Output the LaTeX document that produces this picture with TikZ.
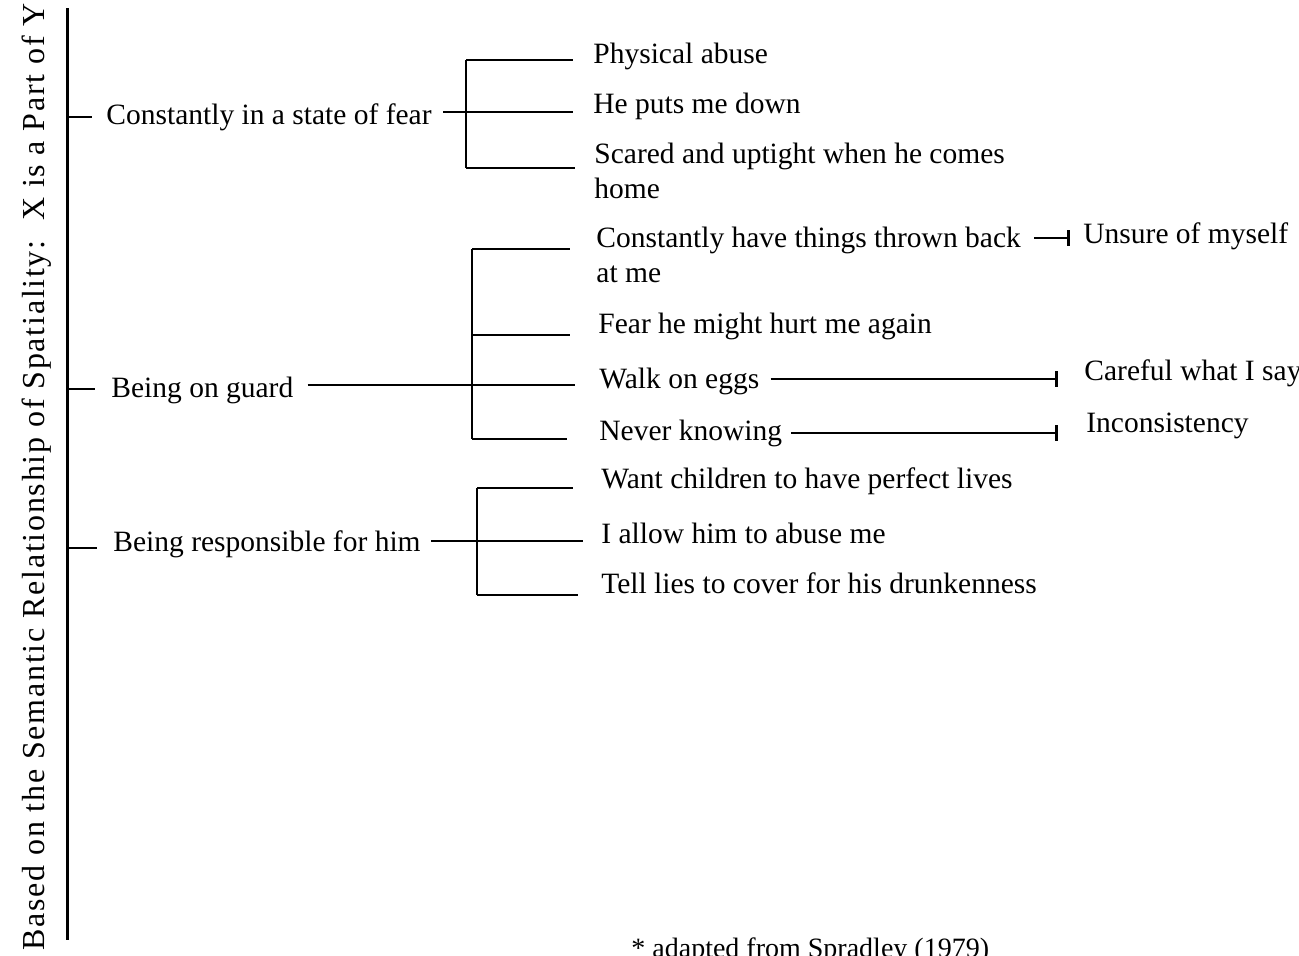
\documentclass[tikz,border=0pt]{standalone}
\usepackage{fontspec}
\setmainfont{Liberation Serif}
\newfontfamily\titlefont[LetterSpace=5.5]{Liberation Serif}
\usetikzlibrary{arrows.meta}
\newcommand\bodysize{\fontsize{29.5}{35}\selectfont}
\newcommand\notesize{\fontsize{28}{34}\selectfont}
\begin{document}
\begin{tikzpicture}[x=1pt,y=-1pt,line width=2.8pt,
  txt/.style={anchor=base west,inner sep=0pt,font=\bodysize},
  tee/.style={-{Bar[width=16pt,line width=3pt]}}]
\useasboundingbox (0,0) rectangle (1299,956);

% rotated heading and main axis
\node[rotate=90,anchor=base,inner sep=0pt,font=\titlefont\fontsize{32}{38}\selectfont]
  (title) at (44,477) {Based on the Semantic Relationship of Spatiality:\ \ X is a Part of Y};
\coordinate (axtop) at (67,8);
\coordinate (axbot) at (67,940);
\draw[line width=3pt] (axtop) -- (axbot);

% first level
\node[txt] (fear)  at (105,124) {Constantly in a state of fear};
\node[txt] (guard) at (110,397) {Being on guard};
\node[txt] (resp)  at (112,551) {Being responsible for him};

\coordinate (ax1) at (67,117);
\coordinate (ax2) at (67,389);
\coordinate (ax3) at (67,548);
\draw (ax1) -- ([xshift=-13pt]fear.west |- ax1);
\draw (ax2) -- ([xshift=-15pt]guard.west |- ax2);
\draw (ax3) -- ([xshift=-15pt]resp.west |- ax3);

% --- constantly in a state of fear
\node[txt] (abuse) at (592,63)  {Physical abuse};
\node[txt] (down)  at (592,113) {He puts me down};
\node[txt] (scared) at (593,163) {\vtop{\hbox{Scared and uptight when he comes}\hbox{home}}};
\coordinate (f1) at (466,60);
\coordinate (f2) at (466,112);
\coordinate (f3) at (466,168);
\draw (f1) -- (f3);
\draw (f1) -- ([xshift=-19pt]abuse.west |- f1);
\draw ([xshift=10pt]fear.east |- f2) -- (f2) -- ([xshift=-19pt]down.west |- f2);
\draw (f3) -- ([xshift=-18pt]scared.west |- f3);

% --- being on guard
\node[txt] (thrown) at (595,247) {\vtop{\hbox{Constantly have things thrown back}\hbox{at me}}};
\node[txt] (hurt)   at (597,333) {Fear he might hurt me again};
\node[txt] (eggs)   at (598,388) {Walk on eggs};
\node[txt] (never)  at (598,440) {Never knowing};
\coordinate (g1) at (472,249);
\coordinate (g2) at (472,335);
\coordinate (g3) at (472,385);
\coordinate (g4) at (472,439);
\draw (g1) -- (g4);
\draw (g1) -- ([xshift=-25pt]thrown.west |- g1);
\draw (g2) -- ([xshift=-27pt]hurt.west |- g2);
\draw ([xshift=13pt]guard.east |- g3) -- (g3) -- ([xshift=-23pt]eggs.west |- g3);
\draw (g4) -- ([xshift=-31pt]never.west |- g4);

\node[txt] (unsure)  at (1082,243) {Unsure of myself};
\node[txt] (careful) at (1083,380) {Careful what I say};
\node[txt] (incons)  at (1085,432) {Inconsistency};
\coordinate (e1) at (0,238);
\coordinate (e2) at (0,379);
\coordinate (e3) at (0,433);
\draw[tee] ([xshift=12pt]thrown.east |- e1) -- ([xshift=-12pt]unsure.west |- e1);
\draw[tee] ([xshift=10pt]eggs.east |- e2) -- ([xshift=-25pt]careful.west |- e2);
\draw[tee] ([xshift=8pt]never.east |- e3) -- ([xshift=-27pt]incons.west |- e3);

% --- being responsible for him
\node[txt] (perfect) at (600,488) {Want children to have perfect lives};
\node[txt] (allow)   at (600,543) {I allow him to abuse me};
\node[txt] (lies)    at (600,593) {Tell lies to cover for his drunkenness};
\coordinate (r1) at (477,488);
\coordinate (r2) at (477,541);
\coordinate (r3) at (477,595);
\draw (r1) -- (r3);
\draw (r1) -- ([xshift=-27pt]perfect.west |- r1);
\draw ([xshift=9pt]resp.east |- r2) -- (r2) -- ([xshift=-17pt]allow.west |- r2);
\draw (r3) -- ([xshift=-22pt]lies.west |- r3);

% source note
\node[anchor=base west,inner sep=0pt,font=\notesize] (note) at (630,957) {* adapted from Spradley (1979)};
\end{tikzpicture}
\end{document}
